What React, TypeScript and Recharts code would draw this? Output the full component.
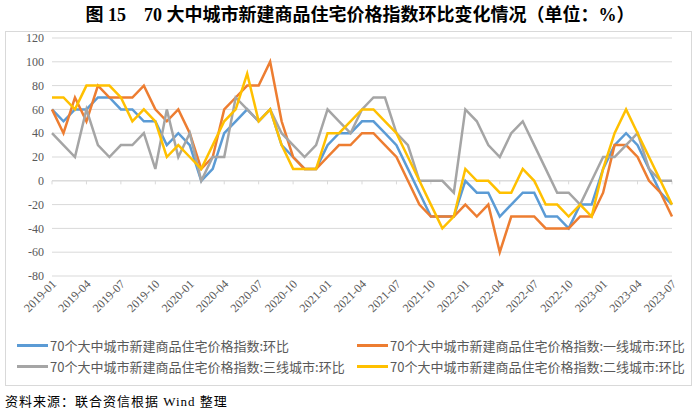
import React from 'react';
import { CartesianGrid, Line, LineChart, ReferenceLine, XAxis, YAxis } from 'recharts';

const months = [
  '2019-01', '2019-02', '2019-03', '2019-04', '2019-05', '2019-06', '2019-07', '2019-08', '2019-09', '2019-10', '2019-11', '2019-12',
  '2020-01', '2020-02', '2020-03', '2020-04', '2020-05', '2020-06', '2020-07', '2020-08', '2020-09', '2020-10', '2020-11', '2020-12',
  '2021-01', '2021-02', '2021-03', '2021-04', '2021-05', '2021-06', '2021-07', '2021-08', '2021-09', '2021-10', '2021-11', '2021-12',
  '2022-01', '2022-02', '2022-03', '2022-04', '2022-05', '2022-06', '2022-07', '2022-08', '2022-09', '2022-10', '2022-11', '2022-12',
  '2023-01', '2023-02', '2023-03', '2023-04', '2023-05', '2023-06', '2023-07',
];

// 70个大中城市:环比
const national = [
  60, 50, 60, 60, 70, 70, 60, 60, 50, 50, 30, 40, 30, 0, 10, 40, 50, 60, 50, 60,
  30, 20, 10, 10, 30, 40, 40, 50, 50, 40, 30, 10, -10, -30, -30, -30, 0, -10, -10, -30,
  -20, -10, -10, -30, -30, -40, -20, -20, 10, 30, 40, 30, 10, -10, -20,
];
// 一线城市
const tier1 = [
  60, 40, 70, 50, 80, 70, 70, 70, 80, 60, 50, 60, 40, 10, 20, 60, 70, 80, 80, 100,
  50, 20, 10, 10, 20, 30, 30, 40, 40, 30, 20, 0, -20, -30, -30, -30, -20, -30, -20, -60,
  -30, -30, -30, -40, -40, -40, -30, -30, -10, 30, 30, 20, 0, -10, -30,
];
// 三线城市
const tier3 = [
  40, 30, 20, 60, 30, 20, 30, 30, 40, 10, 60, 20, 40, 0, 20, 20, 70, 60, 50, 60,
  40, 30, 20, 30, 60, 50, 40, 60, 70, 70, 40, 30, 0, 0, 0, -10, 60, 50, 30, 20,
  40, 50, 30, 10, -10, -10, -20, 0, 20, 20, 30, 40, 10, 0, 0,
];
// 二线城市
const tier2 = [
  70, 70, 60, 80, 80, 80, 70, 50, 60, 50, 20, 30, 20, 10, 30, 50, 60, 90, 50, 60,
  30, 10, 10, 10, 40, 40, 50, 60, 60, 50, 40, 20, 0, -20, -40, -30, 10, 0, 0, -10,
  -10, 10, 0, -20, -20, -30, -20, -30, 10, 40, 60, 40, 20, 0, -20,
];

const yTicks = [-80, -60, -40, -20, 0, 20, 40, 60, 80, 100, 120];

const series = [
  { key: 'national', name: '70个大中城市新建商品住宅价格指数:环比', color: '#5B9BD5' },
  { key: 'tier1', name: '70个大中城市新建商品住宅价格指数:一线城市:环比', color: '#ED7D31' },
  { key: 'tier3', name: '70个大中城市新建商品住宅价格指数:三线城市:环比', color: '#A5A5A5' },
  { key: 'tier2', name: '70个大中城市新建商品住宅价格指数:二线城市:环比', color: '#FFC000' },
];

const data = months.map((m, i) => ({
  month: m,
  national: national[i],
  tier1: tier1[i],
  tier3: tier3[i],
  tier2: tier2[i],
}));

const quarterTicks = months.filter((_, i) => i % 3 === 0);

const serif = "'Liberation Serif', 'Times New Roman', 'Noto Sans CJK SC', serif";

const XTick = (props: any) => {
  const { x, y, payload } = props;
  return (
    <text
      x={x}
      y={y}
      dx={3}
      dy={4}
      transform={`rotate(-45 ${x} ${y})`}
      textAnchor="end"
      fontSize={12}
      fill="#595959"
      fontFamily={serif}
    >
      {payload.value}
    </text>
  );
};

export default function App() {
  return (
    <div style={{ position: 'absolute', left: 0, top: 0, width: 700, height: 412, background: '#fff', fontFamily: "'Noto Sans CJK SC', sans-serif" }}>
      <div
        style={{
          position: 'absolute', left: 10, top: 3, width: 700, textAlign: 'center',
          fontSize: 18, lineHeight: '24px', fontWeight: 'bold', fontFamily: serif, color: '#000',
        }}
      >
        图 15　70 大中城市新建商品住宅价格指数环比变化情况（单位：%）
      </div>
      <div style={{ position: 'absolute', left: 5, top: 31, width: 685, height: 353, border: '1px solid #D9D9D9' }} />
      <div style={{ position: 'absolute', left: 0, top: 0 }}>
        <LineChart width={700} height={320} data={data} margin={{ top: 38, right: 28, bottom: 0, left: 7 }}>
          <CartesianGrid vertical={false} stroke="#D9D9D9" />
          <XAxis
            dataKey="month"
            interval={2}
            axisLine={false}
            tickLine={false}
            height={44}
            tick={<XTick />}
          />
          <YAxis
            domain={[-80, 120]}
            ticks={yTicks}
            width={45}
            axisLine={false}
            tickLine={false}
            tick={{ fontSize: 12, fill: '#595959', fontFamily: serif }}
          />
          <ReferenceLine y={0} stroke="#D9D9D9" />
          {quarterTicks.map((m) => (
            <ReferenceLine key={m} segment={[{ x: m, y: 0 }, { x: m, y: -3 }]} stroke="#D9D9D9" />
          ))}
          {series.map((s) => (
            <Line
              key={s.key}
              type="linear"
              dataKey={s.key}
              name={s.name}
              stroke={s.color}
              strokeWidth={2.5}
              dot={false}
              isAnimationActive={false}
            />
          ))}
        </LineChart>
      </div>
      {series.map((s, i) => (
        <div
          key={s.key}
          style={{
            position: 'absolute',
            left: i % 2 === 0 ? 17 : 357,
            top: i < 2 ? 336 : 357,
            height: 18,
            display: 'flex',
            alignItems: 'center',
            fontSize: 13,
            color: '#595959',
            whiteSpace: 'nowrap',
          }}
        >
          <span style={{ display: 'inline-block', width: 31, height: 3, background: s.color, marginRight: 2 }} />
          {s.name}
        </div>
      ))}
      <div style={{ position: 'absolute', left: 5, top: 391, fontSize: 13, letterSpacing: 1, color: '#000', fontFamily: serif }}>
        资料来源：联合资信根据 Wind 整理
      </div>
    </div>
  );
}
